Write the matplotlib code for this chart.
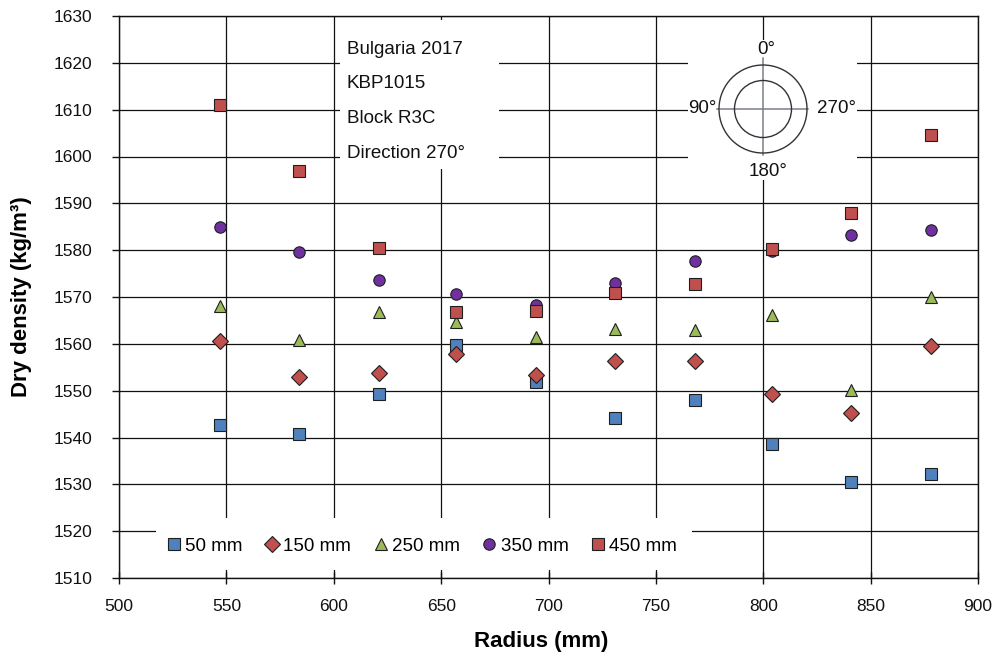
import matplotlib
matplotlib.use("Agg")
import matplotlib.pyplot as plt
from matplotlib.patches import Rectangle, Ellipse
from matplotlib.lines import Line2D

plt.rcParams['font.family'] = ['Liberation Sans', 'DejaVu Sans']

# Radial positions (mm)
radius = [547, 584, 621, 657, 694, 731, 768, 804, 841, 878]

# Dry density (kg/m3) at each depth
density_50 = [1542.6, 1540.8, 1549.3, 1559.7, 1551.8, 1544.1, 1548.1, 1538.7, 1530.6, 1532.1]
density_150 = [1560.7, 1553.0, 1553.8, 1557.9, 1553.3, 1556.4, 1556.3, 1549.2, 1545.3, 1559.6]
density_250 = [1568.1, 1560.9, 1566.7, 1564.7, 1561.5, 1563.2, 1562.9, 1566.2, 1550.1, 1569.9]
density_350 = [1584.9, 1579.6, 1573.6, 1570.7, 1568.2, 1573.0, 1577.6, 1579.8, 1583.2, 1584.2]
density_450 = [1610.9, 1596.8, 1580.5, 1566.7, 1567.0, 1570.9, 1572.8, 1580.2, 1587.9, 1604.5]

series_labels = ['50 mm', '150 mm', '250 mm', '350 mm', '450 mm']
x_ticks = list(range(500, 901, 50))
y_ticks = list(range(1510, 1631, 10))

series = [
    (density_50, 's', '#4F81BD', 8.6),
    (density_150, 'D', '#C0504D', 8.0),
    (density_250, '^', '#9BBB59', 9.0),
    (density_350, 'o', '#7030A0', 8.2),
    (density_450, 's', '#C0504D', 8.6),
]

fig = plt.figure(figsize=(9.94, 6.57), dpi=100)
ax = fig.add_axes([119 / 994, 79 / 657, 859 / 994, 562 / 657])

handles = []
for (vals, mk, col, ms), lab in zip(series, series_labels):
    h, = ax.plot(radius, vals, linestyle='none', marker=mk, markersize=ms,
                 markerfacecolor=col, markeredgecolor='#1f1f1f',
                 markeredgewidth=0.8, label=lab, zorder=4)
    handles.append(h)

ax.set_xlim(500, 900)
ax.set_ylim(1510, 1630)
ax.set_xticks(x_ticks)
ax.set_yticks(y_ticks)
ax.set_axisbelow(True)
ax.grid(True, color='#111111', linewidth=0.9)

for sp in ax.spines.values():
    sp.set_color('#111111')
    sp.set_linewidth(1.0)

ax.tick_params(axis='x', direction='inout', length=8.6, width=1.0,
               pad=10.5, labelsize=12.5, colors='#111111')
ax.tick_params(axis='y', direction='out', length=5, width=1.0,
               pad=14.4, labelsize=12.5, colors='#111111')

ax.set_xlabel('Radius (mm)', fontsize=16, fontweight='bold')
ax.xaxis.label.set_va('baseline')
ax.xaxis.set_label_coords(0.492, -0.1222)
ax.set_ylabel('Dry density (kg/m³)', fontsize=16, fontweight='bold')
ax.yaxis.set_label_coords(-0.1013, 0.5)

T = ax.transAxes

# Sample information panel
ax.add_patch(Rectangle((0.257, 0.728), 0.185, 0.265, transform=T,
                       facecolor='white', edgecolor='none', zorder=2))
info_lines = ['Bulgaria 2017', 'KBP1015', 'Block R3C', 'Direction 270°']
for txt, yb in zip(info_lines, [0.9324, 0.8714, 0.8091, 0.7479]):
    ax.text(0.265, yb, txt, transform=T, fontsize=13.5, va='baseline',
            ha='left', color='#111111', zorder=5)

# Orientation compass
ax.add_patch(Rectangle((0.6624, 0.708), 0.1966, 0.249, transform=T,
                       facecolor='white', edgecolor='none', zorder=2))
cx, cy = 0.7497, 0.8345
ax.add_line(Line2D([0.696, 0.802], [cy, cy], transform=T, color='#7a7f86',
                   linewidth=1.1, zorder=5))
ax.add_line(Line2D([cx, cx], [0.7527, 0.925], transform=T, color='#7a7f86',
                   linewidth=1.1, zorder=5))
for r in (44, 28.5):
    ax.add_patch(Ellipse((cx, cy), 2 * r / 859, 2 * r / 562, transform=T,
                         facecolor='none', edgecolor='#333333', linewidth=1.0,
                         zorder=5))
ax.text(0.7538, 0.9324, '0°', transform=T, fontsize=13.5, ha='center',
        va='baseline', color='#111111', zorder=6)
ax.text(0.696, 0.8269, '90°', transform=T, fontsize=13.5, ha='right',
        va='baseline', color='#111111', zorder=6)
ax.text(0.8129, 0.8269, '270°', transform=T, fontsize=13.5, ha='left',
        va='baseline', color='#111111', zorder=6)
ax.text(0.756, 0.7158, '180°', transform=T, fontsize=13.5, ha='center',
        va='baseline', color='#111111', zorder=6)

# Legend panel
ax.add_patch(Rectangle((0.043, 0.0142), 0.624, 0.0925, transform=T,
                       facecolor='white', edgecolor='none', zorder=2))
leg = ax.legend(handles=handles, ncol=5, loc='center left',
                bbox_to_anchor=(0.057, 0.057), frameon=False,
                fontsize=13.5, handlelength=0.65, handletextpad=0.27,
                columnspacing=1.25, borderpad=0, borderaxespad=0)
leg.set_zorder(6)

fig.savefig('out.png', dpi=100)
